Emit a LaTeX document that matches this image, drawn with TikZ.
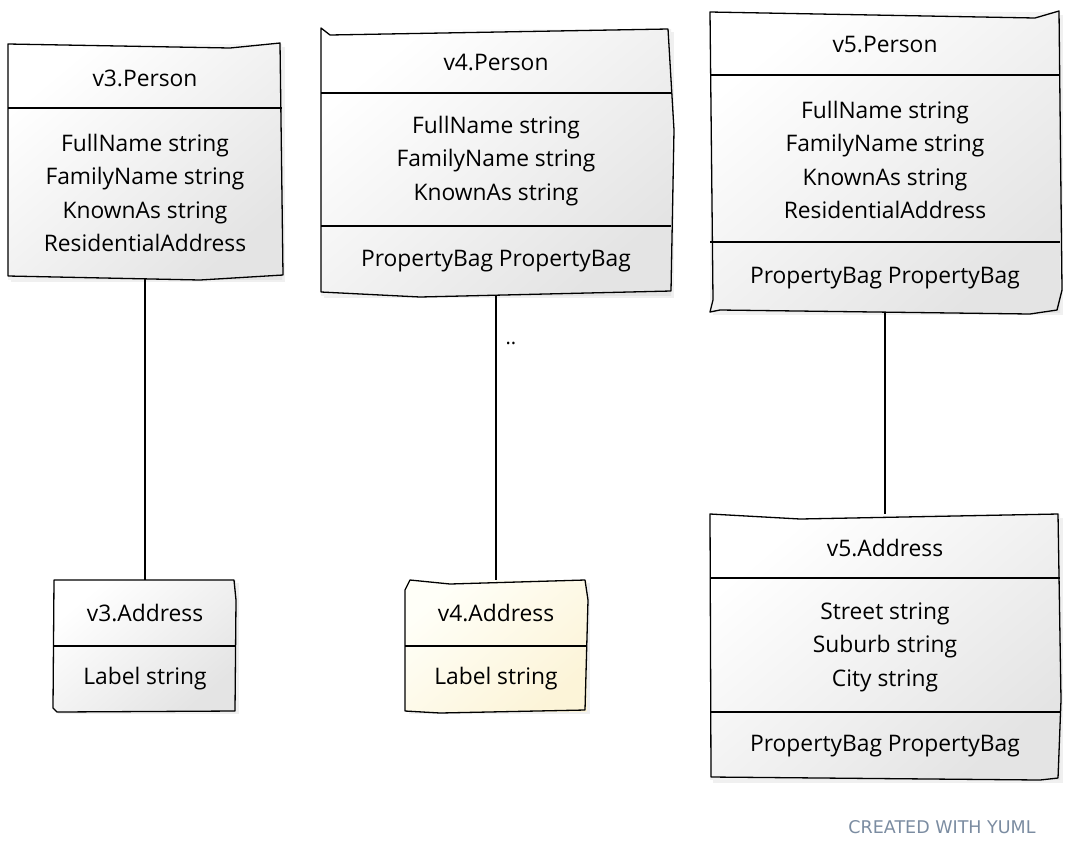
\documentclass[tikz,border=0pt]{standalone}
\usepackage{fontspec}
\setmainfont{Open Sans}
\newfontfamily\creditfont{DejaVu Sans}
\usetikzlibrary{shadows}
\definecolor{boxgray}{HTML}{E4E4E4}
\definecolor{cream1}{HTML}{FFFFF8}
\definecolor{cream2}{HTML}{FCF4D8}
\definecolor{credit}{HTML}{7B8CA1}
\tikzset{
  cls/.style={draw=none, top color=white, bottom color=boxgray, shading angle=40,
    drop shadow={shadow xshift=3pt, shadow yshift=-3pt, opacity=0.12}},
  clsy/.style={cls, top color=cream1, bottom color=cream2, shading angle=40},
  ol/.style={draw=black, line width=1.3pt, line join=round},
  sep/.style={draw=black, line width=1.3pt},
  txt/.style={font=\fontsize{22.8}{33.5}\selectfont, align=center, inner sep=0pt},
  edge/.style={draw=black, line width=1.3pt},
}
\begin{document}
\begin{tikzpicture}[x=1pt,y=-1pt]
\useasboundingbox (0,0) rectangle (1067,855);
% ---------- boxes (fills) ----------
\node[cls, minimum width=274pt, minimum height=235pt] (p3) at (145,161.5) {};
\node[cls, minimum width=350pt, minimum height=266pt] (p4) at (496,162) {};
\node[cls, minimum width=350pt, minimum height=300pt] (p5) at (885,162) {};
\node[cls, minimum width=181pt, minimum height=131pt] (a3) at (145,645.5) {};
\node[clsy, minimum width=181pt, minimum height=131pt] (a4) at (496,645.5) {};
\node[cls, minimum width=350pt, minimum height=265pt] (a5) at (885,647) {};
% ---------- outlines ----------
% v3.Person
\draw[ol] (8,44) -- (230,48) -- (280,43) -- (283,275) -- (200,280) -- (8,276) -- cycle;
\draw[sep] (8,108) -- (282,108);
% v4.Person
\draw[ol] (321,28) -- (330,35) -- (668,29) -- (674,130) -- (671,291) -- (420,297) -- (321,292) -- cycle;
\draw[sep] (321,93) -- (671,93);
\draw[sep] (321,226) -- (671,226);
% v5.Person
\draw[ol] (710,12) -- (1035,18) -- (1059,11) -- (1062,290) -- (1057,310) -- (1030,314) -- (720,310) -- (710,312) -- (713,300) -- cycle;
\draw[sep] (710,75) -- (1060,75);
\draw[sep] (710,242) -- (1060,242);
% v3.Address
\draw[ol] (54,580) -- (234,580) -- (236,600) -- (235,711) -- (57,712) -- (53,708) -- cycle;
\draw[sep] (54,646) -- (235,646);
% v4.Address
\draw[ol] (405,590) -- (410,580) -- (450,584) -- (585,580) -- (588,600) -- (585,710) -- (440,713) -- (405,711) -- cycle;
\draw[sep] (405,646) -- (586,646);
% v5.Address
\draw[ol] (710,514) -- (800,519) -- (1058,514) -- (1061,700) -- (1058,778) -- (1040,780) -- (711,777) -- cycle;
\draw[sep] (710,578) -- (1060,578);
\draw[sep] (710,712) -- (1060,712);
% ---------- texts ----------
\node[txt] (p3t) at (145,78) {v3.Person};
\node[txt] (p3f) at (145,193) {FullName string\\FamilyName string\\KnownAs string\\ResidentialAddress};
\node[txt] (p4t) at (496,62) {v4.Person};
\node[txt] (p4f) at (496,161) {FullName string\\FamilyName string\\KnownAs string};
\node[txt] (p4m) at (496,261) {PropertyBag PropertyBag};
\node[txt] (p5t) at (885,45) {v5.Person};
\node[txt] (p5f) at (885,160) {FullName string\\FamilyName string\\KnownAs string\\ResidentialAddress};
\node[txt] (p5m) at (885,278) {PropertyBag PropertyBag};
\node[txt] (a3t) at (145,613) {v3.Address};
\node[txt] (a3f) at (145,679) {Label string};
\node[txt] (a4t) at (496,613) {v4.Address};
\node[txt] (a4f) at (496,679) {Label string};
\node[txt] (a5t) at (885,548) {v5.Address};
\node[txt] (a5f) at (885,647) {Street string\\Suburb string\\City string};
\node[txt] (a5m) at (885,746) {PropertyBag PropertyBag};
% ---------- connectors ----------
\draw[edge] (p4) -- node[pos=0.17, right=9pt, font=\fontsize{20}{20}\selectfont, inner sep=0pt] (dots) {..} (a4);
\draw[edge] (p3) -- (a3);
\draw[edge] (p5) -- (a5);
% ---------- credit ----------
\node[font=\creditfont\fontsize{17.5}{20}\selectfont, text=credit, inner sep=0pt] (credit) at (942,827) {CREATED WITH YUML};
\end{tikzpicture}
\end{document}
